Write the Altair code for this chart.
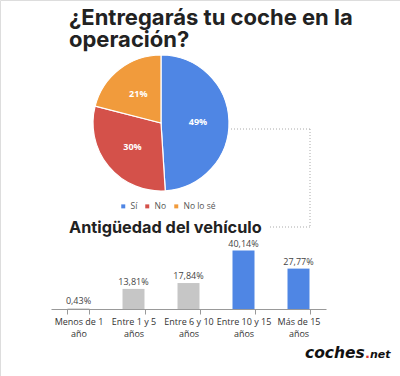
import altair as alt
import pandas as pd

# Pie data
pie_cats = ["Sí", "No", "No lo sé"]
pie_vals = [49, 30, 21]
pie_colors = ["#4f86e4", "#d4514a", "#f19b3c"]

# Bar data
bar_cats = ["Menos de 1 año", "Entre 1 y 5 años", "Entre 6 y 10 años",
            "Entre 10 y 15 años", "Más de 15 años"]
bar_vals = [0.43, 13.81, 17.84, 40.14, 27.77]
bar_colors = ["#c6c6c6", "#c6c6c6", "#c6c6c6", "#4f86e4", "#4f86e4"]

pie_df = pd.DataFrame({"cat": pie_cats, "v": pie_vals, "idx": list(range(len(pie_cats)))})
bar_df = pd.DataFrame({"cat": bar_cats, "v": bar_vals, "col": bar_colors})

one = alt.Data(values=[{}])
CX, CY, R = 161, 123, 68

pie = alt.Chart(pie_df).mark_arc(outerRadius=R, stroke="white", strokeWidth=1.2).encode(
    theta=alt.Theta("v:Q", stack=True),
    color=alt.Color("cat:N", scale=alt.Scale(domain=pie_cats, range=pie_colors),
                    legend=alt.Legend(title=None, orient="none", legendX=119, legendY=202,
                                      direction="horizontal", symbolType="square",
                                      symbolSize=16, labelFontSize=8.5, labelColor="#555",
                                      labelFont="Open Sans", columnPadding=5, labelOffset=3,
                                      symbolStrokeWidth=0)),
    order=alt.Order("idx:Q"),
    x=alt.value(CX), y=alt.value(CY),
)

pie_text = alt.Chart(pie_df).transform_calculate(
    lbl="datum.v + '%'"
).mark_text(radius=37, color="white", fontWeight="bold", fontSize=9, font="Open Sans").encode(
    theta=alt.Theta("v:Q", stack=True),
    order=alt.Order("idx:Q"),
    text="lbl:N",
    x=alt.value(CX), y=alt.value(CY),
)

xscale = alt.Scale(domain=bar_cats, range=[51, 326], paddingInner=0.6, paddingOuter=0.3)
yscale = alt.Scale(domain=[0, 44], range=[309, 245])

bars = alt.Chart(bar_df).mark_bar().encode(
    x=alt.X("cat:N", scale=xscale, sort=None, title=None,
            axis=alt.Axis(offset=-67, tickBand="extent", labelAngle=0, labelAlign="center",
                          domainColor="#999", tickColor="#999", tickSize=5,
                          labelFontSize=9, labelColor="#333", labelFont="Open Sans",
                          labelPadding=3, labelLineHeight=12,
                          labelExpr="[slice(datum.label,0,lastindexof(datum.label,' ')), slice(datum.label,lastindexof(datum.label,' ')+1)]")),
    y=alt.Y("v:Q", scale=yscale, axis=None),
    color=alt.Color("col:N", scale=None),
)

bar_text = alt.Chart(bar_df).transform_calculate(
    lbl="replace(format(datum.v, '.2f'), '.', ',') + '%'"
).mark_text(dy=-2, baseline="bottom", fontSize=9, color="#444", font="Open Sans").encode(
    x=alt.X("cat:N", scale=xscale, sort=None),
    y=alt.Y("v:Q", scale=yscale),
    text="lbl:N",
)

def txt(s, x, y, size, weight="bold", color="#222", font="Inter", align="left", style="normal"):
    return alt.Chart(one).mark_text(align=align, baseline="alphabetic", fontSize=size,
                                    fontWeight=weight, color=color, font=font,
                                    fontStyle=style).encode(
        x=alt.value(x), y=alt.value(y), text=alt.value(s))

title1 = txt("¿Entregarás tu coche en la", 69, 25, 22)
title2 = txt("operación?", 69, 47, 22)
title3 = txt("Antigüedad del vehículo", 69, 233, 16.3)

logo1 = txt("coches", 305, 358, 15.5, color="#111", font="DejaVu Sans", style="italic")
logo2 = txt(".", 365, 358, 13, color="#e03a2f", font="DejaVu Sans")
logo3 = txt("net", 370, 358, 11, color="#111", font="DejaVu Sans", style="italic")

def rule(x, x2, y, y2):
    return alt.Chart(one).mark_rule(color="#aaa", strokeDash=[1, 2], strokeWidth=1).encode(
        x=alt.value(x), x2=alt.value(x2), y=alt.value(y), y2=alt.value(y2))

r1 = rule(231, 310, 129, 129)
r2 = rule(310, 310, 129, 227)
r3 = rule(270, 310, 227, 227)

chart = alt.layer(
    r1, r2, r3, pie, pie_text, bars, bar_text, title1, title2, title3, logo1, logo2, logo3
).resolve_scale(color="independent").properties(
    width=400, height=376, autosize="none", padding=0
).configure_view(stroke=None).configure(background="white")

chart.save("out.html", embed_options={"renderer": "svg", "actions": False})
